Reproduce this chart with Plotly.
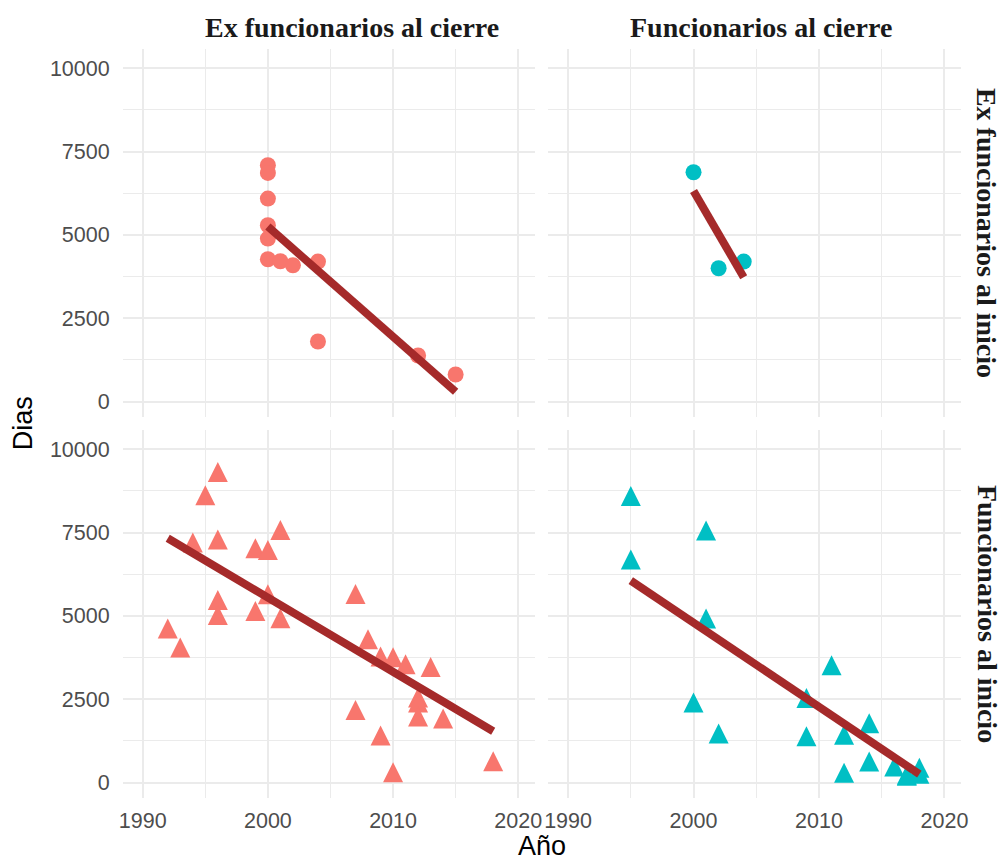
import plotly.graph_objects as go

# ---------------- data ----------------
tl_year = [2000, 2000, 2000, 2000, 2000, 2000, 2001, 2002, 2004, 2004, 2012, 2015]
tl_dias = [7090, 6860, 6090, 5290, 4890, 4270, 4210, 4090, 4200, 1800, 1380, 810]

tr_year = [2000, 2002, 2004]
tr_dias = [6880, 4000, 4200]

bl_year = [1992, 1993, 1994, 1995, 1996, 1996, 1996, 1996, 1999, 1999, 2000, 2000, 2001, 2001,
           2007, 2007, 2008, 2009, 2009, 2010, 2010, 2011, 2012, 2012, 2012, 2013, 2014, 2018]
bl_dias = [4520, 3950, 7100, 8520, 9220, 7190, 5380, 4930, 6930, 5050, 6880, 5550, 7480, 4830,
           5560, 2080, 4200, 3680, 1310, 3660, 210, 3450, 2450, 2300, 1880, 3370, 1820, 540]

br_year = [1995, 1995, 2000, 2001, 2001, 2002, 2009, 2009, 2011, 2012, 2012, 2014, 2014,
           2016, 2017, 2017, 2018, 2018]
br_dias = [8500, 6590, 2300, 7460, 4820, 1370, 2440, 1290, 3420, 1330, 190, 1680, 530,
           380, 130, 100, 340, 160]

# linear trend lines (end points)
tl_fit_year = [2000, 2015]
tl_fit_dias = [5250, 290]
tr_fit_year = [2000, 2004]
tr_fit_dias = [6320, 3730]
bl_fit_year = [1992, 2018]
bl_fit_dias = [7330, 1540]
br_fit_year = [1995, 2018]
br_fit_dias = [6060, 250]

col_labels = ["Ex funcionarios al cierre", "Funcionarios al cierre"]
row_labels = ["Ex funcionarios al inicio", "Funcionarios al inicio"]
x_ticks = [1990, 2000, 2010, 2020]
x_tick_text = ["1990", "2000", "2010", "2020"]
y_ticks = [0, 2500, 5000, 7500, 10000]
y_tick_text = ["0", "2500", "5000", "7500", "10000"]

# ---------------- styling ----------------
W, H = 1005, 863
SALMON = "#F8766D"
CYAN = "#00BFC4"
BROWN = "#A52A2A"
GRID = "#EBEBEB"

xdom = [[120 / W, 537 / W], [550 / W, 968 / W]]
ydom = [[1 - 417 / H, 1 - 49 / H], [1 - 798 / H, 1 - 430 / H]]
xr = [1988.4, 2021.35]
yr = [-465, 10580]

fig = go.Figure()

panels = [
    (tl_year, tl_dias, tl_fit_year, tl_fit_dias, SALMON, "circle", 0, 0),
    (tr_year, tr_dias, tr_fit_year, tr_fit_dias, CYAN, "circle", 0, 1),
    (bl_year, bl_dias, bl_fit_year, bl_fit_dias, SALMON, "triangle", 1, 0),
    (br_year, br_dias, br_fit_year, br_fit_dias, CYAN, "triangle", 1, 1),
]

for i, (xs, ys, fx, fy, col, shape, r, c) in enumerate(panels):
    n = i + 1
    xa = "x" if n == 1 else f"x{n}"
    ya = "y" if n == 1 else f"y{n}"
    if shape == "circle":
        marker = dict(symbol="circle", size=16, color=col, line=dict(width=0))
    else:
        s = 20
        marker = dict(symbol="arrow-down", angle=180, standoff=s * 2 / 3, size=s,
                      color=col, line=dict(width=0))
    fig.add_trace(go.Scatter(x=xs, y=ys, mode="markers", marker=marker,
                             xaxis=xa, yaxis=ya, showlegend=False, hoverinfo="skip"))
    fig.add_trace(go.Scatter(x=fx, y=fy, mode="lines", line=dict(color=BROWN, width=8),
                             xaxis=xa, yaxis=ya, showlegend=False, hoverinfo="skip"))

tickfont = dict(family="Liberation Sans, Arial, sans-serif", size=21.5, color="#4D4D4D")

layout = dict(
    width=W, height=H,
    margin=dict(l=0, r=0, t=0, b=0),
    paper_bgcolor="white", plot_bgcolor="white",
    showlegend=False,
)

for i in range(4):
    n = i + 1
    r, c = divmod(i, 2)
    xkey = "xaxis" if n == 1 else f"xaxis{n}"
    ykey = "yaxis" if n == 1 else f"yaxis{n}"
    ya = "y" if n == 1 else f"y{n}"
    xa = "x" if n == 1 else f"x{n}"
    layout[xkey] = dict(
        domain=xdom[c], anchor=ya, range=xr, tickvals=x_ticks, ticktext=x_tick_text,
        showticklabels=(r == 1), showgrid=True, gridcolor=GRID, gridwidth=1.6,
        zeroline=False, showline=False, ticks="", tickfont=tickfont,
        ticklabelstandoff=7,
        minor=dict(tickvals=[1995, 2005, 2015], showgrid=True, gridcolor=GRID, gridwidth=1.0),
    )
    layout[ykey] = dict(
        domain=ydom[r], anchor=xa, range=yr, tickvals=y_ticks, ticktext=y_tick_text,
        showticklabels=(c == 0), showgrid=True, gridcolor=GRID, gridwidth=1.6,
        zeroline=False, showline=False, ticks="", tickfont=tickfont,
        ticklabelstandoff=12,
        minor=dict(tickvals=[1250, 3750, 6250, 8750], showgrid=True, gridcolor=GRID, gridwidth=1.0),
    )

fig.update_layout(**layout)

annots = []
strip_font = dict(family="Liberation Serif, Times New Roman, serif", size=28, color="#1A1A1A")
strip_x = [352 / W, 765 / W]
for c, lab in enumerate(col_labels):
    annots.append(dict(text=f"<b>{lab}</b>", x=strip_x[c], y=1 - 28 / H,
                       xref="paper", yref="paper", xanchor="center", yanchor="middle",
                       showarrow=False, font=strip_font))
for r, lab in enumerate(row_labels):
    annots.append(dict(text=f"<b>{lab}</b>", x=994 / W, y=(ydom[r][0] + ydom[r][1]) / 2,
                       xref="paper", yref="paper", xanchor="center", yanchor="middle",
                       textangle=90, showarrow=False, font=strip_font))
title_font = dict(family="Liberation Sans, Arial, sans-serif", size=27, color="black")
annots.append(dict(text="Dias", x=19 / W, y=1 - 423.5 / H, xref="paper", yref="paper",
                   xanchor="center", yanchor="middle", textangle=-90, showarrow=False,
                   font=title_font))
annots.append(dict(text="Año", x=544 / W, y=0, xref="paper", yref="paper",
                   xanchor="center", yanchor="bottom", showarrow=False, font=title_font))
fig.update_layout(annotations=annots)

fig.write_html("out.html")
